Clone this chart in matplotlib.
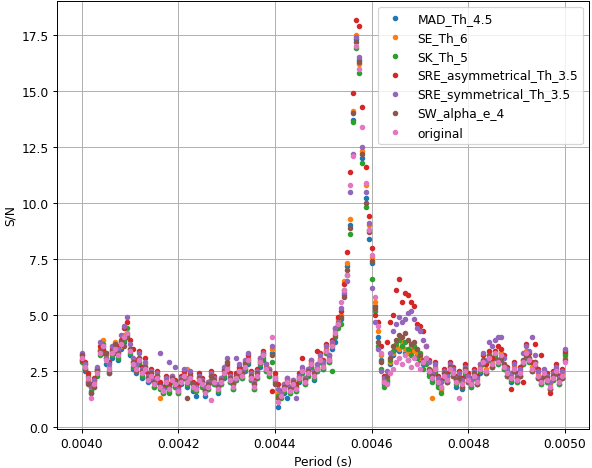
import numpy as np
import matplotlib
matplotlib.use('Agg')
import matplotlib.pyplot as plt

# trial periods (s), evenly spaced search grid
period = np.linspace(0.004, 0.005, 161)

# S/N per method
mad_th_4_5 = [
    3.0, 2.5, 2.0, 1.5, 2.1, 2.6, 3.4, 3.5, 2.8, 2.4,
    3.1, 3.6, 3.0, 3.5, 3.8, 4.1, 3.2, 2.6, 2.4, 2.8,
    2.2, 2.7, 2.0, 2.1, 1.8, 2.0, 1.9, 1.5, 1.8, 1.6,
    2.0, 1.8, 1.5, 1.9, 2.2, 1.8, 2.0, 1.6, 1.4, 2.0,
    1.8, 1.4, 1.7, 2.0, 1.9, 1.5, 1.9, 2.2, 2.5, 2.0,
    1.7, 2.1, 2.3, 2.2, 2.5, 2.8, 2.1, 1.7, 2.2, 2.7,
    3.0, 2.5, 2.3, 3.3, 2.2, 0.9, 1.6, 1.5, 1.3, 1.5,
    1.8, 1.6, 2.0, 2.4, 1.9, 2.3, 2.7, 2.1, 2.5, 2.9,
    2.6, 3.3, 2.9, 3.5, 3.8, 4.5, 4.8, 5.9, 7.2, 9.0,
    13.7, 17.3, 16.4, 12.0, 10.2, 8.4, 7.3, 5.4, 4.0, 3.0,
    1.9, 2.0, 2.8, 3.2, 3.5, 3.4, 3.6, 3.3, 3.0, 3.4,
    3.5, 3.2, 3.0, 2.8, 2.9, 2.4, 2.1, 2.5, 1.9, 1.7,
    2.2, 2.0, 2.5, 2.3, 1.8, 2.1, 1.7, 2.3, 2.0, 1.8,
    2.2, 1.9, 2.4, 2.8, 2.4, 3.0, 2.7, 3.1, 2.8, 3.0,
    2.6, 2.3, 2.0, 2.5, 2.0, 2.3, 2.8, 3.1, 2.9, 2.5,
    2.7, 2.2, 1.9, 2.3, 2.0, 1.7, 2.1, 2.4, 1.9, 2.2,
    3.3,
]
se_th_6 = [
    3.2, 2.8, 2.1, 1.8, 2.0, 2.5, 3.5, 3.9, 3.2, 2.7,
    3.4, 3.8, 3.3, 3.6, 4.1, 4.2, 3.5, 2.9, 2.5, 3.1,
    2.5, 2.8, 2.2, 2.4, 2.0, 2.1, 1.3, 1.7, 2.1, 1.8,
    2.2, 2.0, 1.7, 2.1, 2.4, 2.6, 2.3, 1.9, 1.8, 2.2,
    2.0, 1.6, 1.9, 2.3, 2.1, 1.8, 2.1, 2.5, 2.7, 2.2,
    1.9, 2.3, 2.6, 2.4, 2.6, 3.1, 2.3, 1.9, 2.4, 3.0,
    3.3, 2.7, 2.5, 3.5, 2.3, 1.5, 1.5, 1.8, 2.1, 1.7,
    2.0, 1.8, 2.3, 2.6, 2.1, 2.5, 2.9, 2.4, 2.7, 3.1,
    2.8, 3.5, 3.1, 3.7, 4.3, 4.8, 5.0, 6.5, 7.3, 9.3,
    14.1, 17.5, 16.2, 12.3, 10.8, 9.0, 7.6, 5.6, 4.3, 3.2,
    2.1, 2.2, 2.9, 3.3, 3.6, 3.5, 3.8, 3.5, 3.3, 3.6,
    3.4, 3.3, 3.1, 2.9, 3.0, 2.6, 1.3, 2.7, 2.1, 1.6,
    2.4, 2.2, 2.7, 2.5, 2.1, 2.3, 2.0, 2.6, 2.2, 2.0,
    2.4, 2.1, 2.7, 3.0, 2.6, 3.2, 2.9, 3.4, 3.0, 3.3,
    2.8, 2.5, 2.3, 2.7, 2.2, 2.5, 3.0, 3.4, 3.1, 2.7,
    2.9, 2.4, 2.1, 2.5, 2.2, 1.9, 2.3, 2.6, 2.1, 2.4,
    3.1,
]
sk_th_5 = [
    2.9, 2.6, 2.3, 1.6, 1.8, 2.3, 3.2, 3.7, 3.1, 2.5,
    3.2, 3.6, 3.1, 3.8, 3.9, 4.4, 3.3, 2.7, 2.7, 2.9,
    2.3, 2.5, 2.2, 2.2, 1.8, 2.3, 1.7, 1.5, 1.9, 1.5,
    2.0, 1.8, 1.5, 2.1, 2.2, 1.9, 2.1, 1.7, 1.6, 2.0,
    1.8, 1.6, 1.7, 2.1, 1.9, 1.6, 1.9, 2.3, 2.5, 2.0,
    1.7, 2.1, 2.4, 2.2, 2.6, 2.9, 2.1, 1.7, 2.2, 2.8,
    3.1, 2.5, 2.3, 2.9, 2.0, 1.4, 1.3, 1.6, 1.9, 1.5,
    1.8, 1.6, 2.1, 2.4, 1.9, 2.3, 2.7, 2.2, 2.5, 2.9,
    2.6, 3.3, 2.9, 2.5, 4.0, 4.4, 4.6, 6.1, 6.8, 8.6,
    13.6, 16.9, 15.8, 11.8, 9.8, 8.8, 6.6, 5.2, 3.6, 2.6,
    1.8, 2.1, 3.0, 3.4, 3.7, 3.9, 3.6, 3.8, 3.5, 3.2,
    3.6, 3.1, 3.3, 2.6, 2.8, 2.3, 2.0, 2.4, 1.8, 1.5,
    2.2, 2.0, 2.5, 2.3, 1.9, 2.1, 1.8, 2.4, 2.0, 1.8,
    2.2, 1.9, 2.5, 2.8, 2.4, 3.0, 2.7, 3.2, 2.8, 3.1,
    2.6, 2.3, 2.1, 2.5, 2.0, 2.3, 2.8, 3.2, 2.9, 2.5,
    2.7, 2.2, 1.9, 2.3, 2.0, 1.7, 2.1, 2.4, 1.9, 2.2,
    3.2,
]
sre_asym_th_3_5 = [
    3.0, 2.9, 2.4, 1.9, 2.2, 2.6, 3.6, 3.4, 3.3, 2.9,
    3.5, 3.3, 3.6, 3.9, 4.4, 4.7, 3.9, 3.5, 3.0, 3.4,
    2.7, 3.1, 2.4, 2.6, 2.2, 2.5, 2.0, 1.8, 2.3, 1.9,
    2.3, 2.1, 1.8, 2.3, 2.5, 2.1, 2.4, 2.0, 1.9, 2.4,
    2.2, 1.7, 2.0, 2.5, 2.3, 1.9, 2.2, 2.6, 2.8, 2.4,
    2.0, 2.4, 2.7, 2.6, 2.9, 3.2, 2.5, 2.1, 2.6, 3.1,
    3.4, 2.8, 2.6, 1.6, 2.4, 1.9, 1.6, 1.9, 2.2, 1.8,
    2.1, 1.9, 2.4, 3.1, 2.2, 2.6, 3.0, 2.5, 3.4, 3.3,
    3.0, 3.7, 3.2, 3.9, 4.4, 4.9, 5.2, 6.4, 7.8, 11.4,
    14.9, 18.15, 17.9, 14.3, 11.6, 9.4, 8.0, 5.0, 4.7, 3.6,
    2.3, 3.8, 4.7, 5.0, 6.1, 6.6, 5.6, 6.0, 5.9, 5.6,
    5.4, 4.6, 4.5, 4.3, 3.6, 3.0, 2.5, 2.9, 2.3, 2.1,
    2.6, 2.4, 2.9, 2.7, 2.3, 2.5, 2.2, 2.8, 2.4, 2.2,
    2.6, 2.3, 2.8, 3.2, 2.8, 3.4, 3.1, 3.4, 3.6, 3.5,
    3.2, 2.7, 1.7, 2.9, 2.4, 2.7, 2.0, 3.7, 3.3, 2.9,
    3.7, 2.6, 3.2, 2.3, 2.4, 1.5, 2.5, 2.8, 2.3, 2.6,
    3.4,
]
sre_sym_th_3_5 = [
    3.3, 2.8, 2.0, 1.8, 2.1, 2.7, 3.8, 3.6, 3.1, 2.8,
    3.6, 3.4, 3.5, 4.1, 4.5, 4.9, 3.7, 3.1, 2.8, 3.3,
    2.6, 2.9, 2.3, 2.5, 2.1, 2.4, 3.3, 1.7, 2.2, 2.9,
    2.3, 2.7, 1.7, 2.2, 2.6, 2.2, 2.5, 1.9, 1.8, 2.3,
    2.1, 1.8, 2.0, 2.4, 2.2, 1.9, 2.2, 2.7, 3.1, 2.3,
    2.0, 3.1, 2.8, 2.5, 3.0, 3.3, 2.4, 2.0, 2.5, 3.1,
    3.3, 2.8, 2.6, 3.6, 2.1, 1.7, 1.5, 1.9, 2.2, 1.8,
    2.1, 1.3, 2.3, 2.7, 2.2, 2.6, 3.0, 2.5, 2.8, 3.2,
    2.9, 3.6, 3.2, 3.8, 4.4, 4.7, 5.3, 6.0, 6.5, 10.5,
    12.2, 17.4, 16.5, 12.5, 10.5, 9.1, 6.2, 4.7, 3.5, 2.5,
    2.2, 2.5, 3.3, 4.3, 4.6, 4.9, 4.7, 4.8, 5.1, 5.2,
    4.8, 4.4, 4.3, 3.9, 3.6, 2.9, 2.4, 2.8, 2.2, 2.0,
    2.5, 2.3, 2.8, 2.6, 2.2, 2.4, 2.1, 2.7, 2.3, 2.1,
    2.5, 2.2, 2.8, 3.3, 3.0, 3.8, 3.6, 3.9, 4.0, 4.0,
    3.1, 2.6, 2.4, 2.8, 2.3, 2.6, 3.3, 3.6, 3.4, 4.0,
    3.2, 2.5, 2.2, 2.6, 2.3, 2.0, 2.4, 2.7, 2.2, 2.5,
    3.5,
]
sw_alpha_e_4 = [
    3.2, 2.6, 1.9, 1.5, 1.8, 2.5, 3.4, 3.3, 3.3, 2.4,
    3.4, 3.7, 3.3, 3.8, 3.6, 4.0, 3.5, 2.9, 2.5, 3.1,
    2.5, 2.7, 2.2, 2.4, 2.0, 2.3, 1.8, 1.6, 2.0, 1.8,
    2.2, 2.0, 1.6, 2.1, 2.3, 1.3, 2.3, 1.9, 1.7, 2.2,
    2.0, 1.6, 1.9, 2.3, 2.1, 1.8, 2.1, 2.5, 2.9, 2.2,
    1.9, 2.3, 2.5, 2.4, 2.8, 3.0, 2.3, 1.9, 2.4, 2.9,
    3.2, 2.6, 2.5, 3.2, 1.9, 1.3, 1.4, 1.8, 2.0, 1.7,
    2.0, 1.8, 2.2, 2.5, 2.1, 2.5, 2.8, 2.4, 2.6, 3.0,
    2.7, 3.4, 3.0, 3.6, 4.1, 4.6, 4.9, 5.8, 7.0, 8.9,
    14.0, 17.2, 16.3, 12.2, 10.0, 8.7, 7.4, 5.3, 3.8, 2.9,
    2.0, 2.3, 3.1, 3.6, 3.9, 4.1, 4.0, 4.2, 3.9, 3.7,
    3.8, 3.5, 3.2, 3.0, 3.1, 2.6, 2.3, 2.6, 2.0, 1.8,
    2.4, 2.0, 2.7, 2.3, 2.1, 2.2, 1.8, 2.6, 2.0, 1.9,
    2.4, 1.9, 2.6, 3.0, 2.4, 3.2, 2.7, 3.3, 3.0, 3.1,
    2.8, 2.3, 2.2, 2.5, 2.2, 2.3, 3.0, 3.2, 3.1, 2.5,
    2.9, 2.2, 2.1, 2.3, 2.2, 1.7, 2.3, 2.4, 2.1, 2.2,
    3.0,
]
original = [
    3.1, 2.7, 2.2, 1.3, 1.9, 2.4, 3.3, 3.6, 3.0, 2.6,
    3.3, 3.5, 3.2, 3.7, 4.0, 4.2, 3.4, 2.8, 2.6, 3.0,
    2.4, 2.6, 2.1, 2.3, 1.9, 2.2, 1.8, 1.6, 2.0, 1.7,
    2.1, 1.9, 1.6, 2.0, 2.3, 2.0, 2.2, 1.8, 1.7, 2.1,
    1.9, 1.5, 1.8, 1.2, 2.0, 1.7, 2.0, 2.4, 2.6, 2.1,
    1.8, 2.2, 2.5, 2.3, 2.7, 3.0, 2.2, 1.8, 2.3, 2.9,
    3.2, 2.6, 2.4, 4.0, 2.2, 1.1, 1.4, 1.7, 2.0, 1.6,
    1.9, 1.7, 2.2, 2.5, 2.0, 2.4, 2.8, 2.3, 2.6, 3.0,
    2.7, 3.4, 3.0, 3.6, 4.2, 4.6, 5.6, 6.1, 6.8, 10.8,
    12.1, 17.0, 16.0, 13.4, 10.9, 8.8, 7.7, 5.8, 4.5, 3.3,
    2.0, 1.9, 2.4, 2.6, 2.9, 3.1, 2.8, 3.2, 3.0, 2.7,
    3.1, 2.8, 2.6, 2.9, 3.1, 2.5, 2.2, 2.6, 2.0, 1.8,
    2.3, 2.1, 2.6, 2.4, 2.0, 1.3, 1.9, 2.5, 2.1, 1.9,
    2.3, 2.0, 2.6, 2.9, 2.5, 3.1, 2.8, 3.3, 2.9, 3.2,
    2.7, 2.4, 2.2, 2.6, 2.1, 2.4, 2.9, 3.3, 3.0, 2.6,
    2.8, 2.3, 2.0, 2.4, 2.1, 1.8, 2.2, 2.5, 2.0, 2.3,
    2.9,
]

series = {
    'MAD_Th_4.5': mad_th_4_5,
    'SE_Th_6': se_th_6,
    'SK_Th_5': sk_th_5,
    'SRE_asymmetrical_Th_3.5': sre_asym_th_3_5,
    'SRE_symmetrical_Th_3.5': sre_sym_th_3_5,
    'SW_alpha_e_4': sw_alpha_e_4,
    'original': original,
}

dpi = 88
fig, ax = plt.subplots(figsize=(592 / dpi, 469 / dpi), dpi=dpi)
fig.subplots_adjust(left=0.097, right=0.995, top=0.996, bottom=0.084)

for name, snr in series.items():
    ax.plot(period, snr, '.', markersize=7, label=name)

ax.set_ylim(-0.07, 19.02)
ax.set_xlabel('Period (s)')
ax.set_ylabel('S/N')
ax.grid(True)
ax.legend(loc='upper right')

fig.savefig('out.png', dpi=dpi)
plt.close(fig)
